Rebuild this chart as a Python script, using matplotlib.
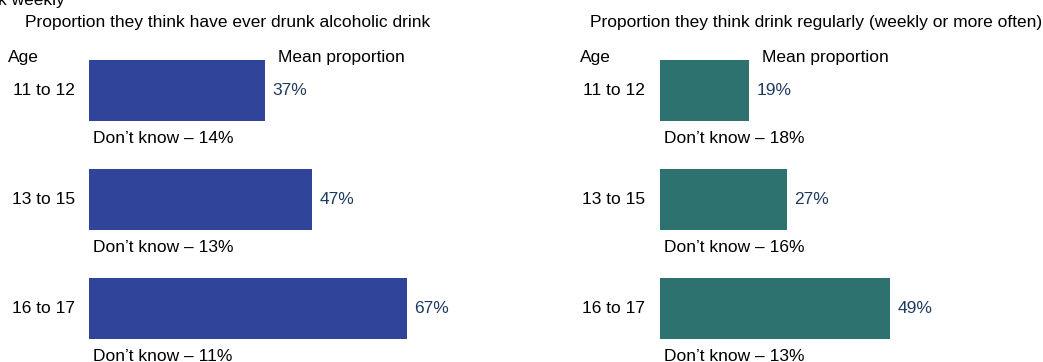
import matplotlib
matplotlib.use("Agg")
import matplotlib.pyplot as plt

plt.rcParams['font.family'] = ['Liberation Sans', 'DejaVu Sans']

# data
ages = ["11 to 12", "13 to 15", "16 to 17"]
ever_drunk = [37, 47, 67]
ever_dont_know = [14, 13, 11]
regular = [19, 27, 49]
regular_dont_know = [18, 16, 13]

W, H = 1043, 362
fig = plt.figure(figsize=(W / 100, H / 100), dpi=100)

FS = 12.5
VAL_COLOR = "#1f3a60"


def px_axes(x0, px_per_pct, xmax):
    # axes placed by pixel geometry, x in percent, y in category index
    top, bottom = 30.05, 357.55
    left = x0 / W
    width = px_per_pct * xmax / W
    return fig.add_axes([left, (H - bottom) / H, width, (bottom - top) / H])


def draw_panel(ax, values, dont_know, color, age_x, head_age_x, head_mean_x):
    y = list(range(len(ages)))
    ax.barh(y, values, height=0.56, color=color)
    ax.set_xlim(0, 70)
    ax.set_ylim(2.45, -0.55)
    ax.axis("off")
    for i, (v, dk) in enumerate(zip(values, dont_know)):
        ax.text(v + 1.5, i, f"{v}%", va="center", ha="left", fontsize=FS,
                color=VAL_COLOR, clip_on=False)
        ax.text(0.8, i + 0.44, f"Don\u2019t know \u2013 {dk}%", va="center",
                ha="left", fontsize=FS, color="black", clip_on=False)
        ax.text(age_x, i, ages[i], va="center", ha="right", fontsize=FS,
                clip_on=False)
    ax.text(head_age_x, -0.30, "Age", va="center", ha="left", fontsize=FS,
            clip_on=False)
    ax.text(head_mean_x, -0.30, "Mean proportion", va="center", ha="left",
            fontsize=FS, clip_on=False)


ax1 = px_axes(89, 4.75, 70)
draw_panel(ax1, ever_drunk, ever_dont_know, "#30449a", -3.0, -17.0, 39.8)

ax2 = px_axes(660, 4.7, 70)
draw_panel(ax2, regular, regular_dont_know, "#2e7270", -3.2, -17.0, 21.7)

fig.text(25 / W, 1 - 22 / H, "Proportion they think have ever drunk alcoholic drink",
         ha="left", va="center", fontsize=FS)
fig.text(590 / W, 1 - 22 / H, "Proportion they think drink regularly (weekly or more often)",
         ha="left", va="center", fontsize=FS)
# heading cut off at the top edge in the original
fig.text(-2 / W, 1 - 1 / H, "k weekly", ha="left", va="center", fontsize=FS)

fig.savefig("out.png", dpi=100)
